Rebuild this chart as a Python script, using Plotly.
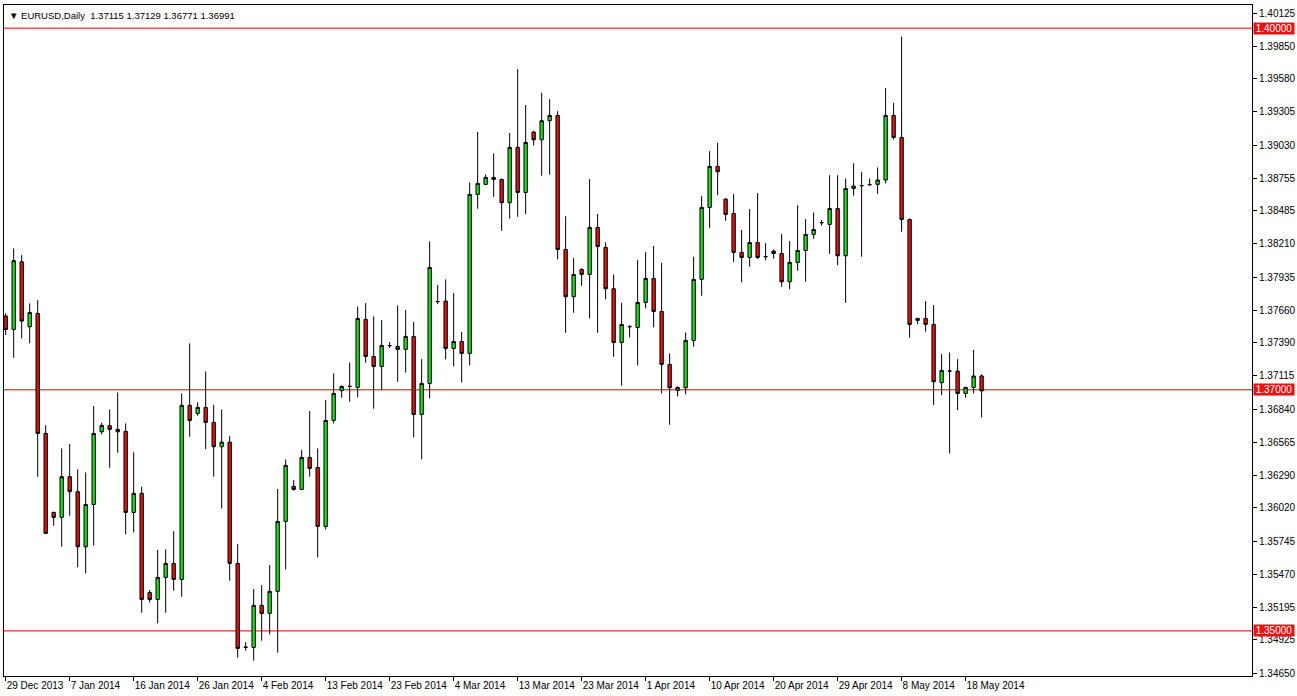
import datetime as dt
import plotly.graph_objects as go

# ---------------- data ----------------
dates = [
    "2013-12-29", "2013-12-30", "2013-12-31", "2014-01-01", "2014-01-02", "2014-01-03",
    "2014-01-05", "2014-01-06", "2014-01-07", "2014-01-08", "2014-01-09", "2014-01-10",
    "2014-01-12", "2014-01-13", "2014-01-14", "2014-01-15", "2014-01-16", "2014-01-17",
    "2014-01-19", "2014-01-20", "2014-01-21", "2014-01-22", "2014-01-23", "2014-01-24",
    "2014-01-26", "2014-01-27", "2014-01-28", "2014-01-29", "2014-01-30", "2014-01-31",
    "2014-02-02", "2014-02-03", "2014-02-04", "2014-02-05", "2014-02-06", "2014-02-07",
    "2014-02-09", "2014-02-10", "2014-02-11", "2014-02-12", "2014-02-13", "2014-02-14",
    "2014-02-16", "2014-02-17", "2014-02-18", "2014-02-19", "2014-02-20", "2014-02-21",
    "2014-02-23", "2014-02-24", "2014-02-25", "2014-02-26", "2014-02-27", "2014-02-28",
    "2014-03-02", "2014-03-03", "2014-03-04", "2014-03-05", "2014-03-06", "2014-03-07",
    "2014-03-09", "2014-03-10", "2014-03-11", "2014-03-12", "2014-03-13", "2014-03-14",
    "2014-03-16", "2014-03-17", "2014-03-18", "2014-03-19", "2014-03-20", "2014-03-21",
    "2014-03-23", "2014-03-24", "2014-03-25", "2014-03-26", "2014-03-27", "2014-03-28",
    "2014-03-30", "2014-03-31", "2014-04-01", "2014-04-02", "2014-04-03", "2014-04-04",
    "2014-04-06", "2014-04-07", "2014-04-08", "2014-04-09", "2014-04-10", "2014-04-11",
    "2014-04-13", "2014-04-14", "2014-04-15", "2014-04-16", "2014-04-17", "2014-04-18",
    "2014-04-20", "2014-04-21", "2014-04-22", "2014-04-23", "2014-04-24", "2014-04-25",
    "2014-04-27", "2014-04-28", "2014-04-29", "2014-04-30", "2014-05-01", "2014-05-02",
    "2014-05-04", "2014-05-05", "2014-05-06", "2014-05-07", "2014-05-08", "2014-05-09",
    "2014-05-11", "2014-05-12", "2014-05-13", "2014-05-14", "2014-05-15", "2014-05-16",
    "2014-05-18", "2014-05-19", "2014-05-20",
]

opens = [
    1.37612, 1.37501, 1.38062, 1.37523, 1.37634, 1.36638, 1.35983, 1.35942, 1.36279, 1.36155,
    1.35698, 1.36049, 1.36652, 1.36702, 1.36672, 1.36655, 1.35983, 1.36141, 1.35319, 1.35261,
    1.35444, 1.35560, 1.35427, 1.36871, 1.36804, 1.36854, 1.36730, 1.36528, 1.36566, 1.35560,
    1.34863, 1.34863, 1.35212, 1.35145, 1.35328, 1.35908, 1.36199, 1.36174, 1.36439, 1.36356,
    1.35867, 1.36746, 1.36995, 1.37028, 1.37020, 1.37584, 1.37277, 1.37194, 1.37366, 1.37360,
    1.37335, 1.37443, 1.36796, 1.37053, 1.37731, 1.37736, 1.37343, 1.37401, 1.37302, 1.38621,
    1.38704, 1.38762, 1.38745, 1.38552, 1.39011, 1.38637, 1.39138, 1.39074, 1.39232, 1.39276,
    1.38164, 1.37772, 1.37999, 1.37957, 1.38347, 1.38181, 1.37838, 1.37393, 1.37523, 1.37517,
    1.37725, 1.37924, 1.37650, 1.37211, 1.36995, 1.37017, 1.37410, 1.37916, 1.38513, 1.38853,
    1.38582, 1.38463, 1.38140, 1.38098, 1.38222, 1.38104, 1.38151, 1.38131, 1.37896, 1.38057,
    1.38156, 1.38289, 1.38386, 1.38372, 1.38504, 1.38112, 1.38670, 1.38693, 1.38701, 1.38704,
    1.38740, 1.39276, 1.39093, 1.38413, 1.37576, 1.37592, 1.37543, 1.37059, 1.37155, 1.37155,
    1.36970, 1.37020, 1.37115,
]

highs = [
    1.37634, 1.38173, 1.38118, 1.37717, 1.37744, 1.36707, 1.35989, 1.36514, 1.36550, 1.36340,
    1.36315, 1.36865, 1.36727, 1.36837, 1.36978, 1.36721, 1.36481, 1.36196, 1.35339, 1.35671,
    1.35676, 1.35828, 1.36970, 1.37385, 1.36896, 1.37153, 1.36876, 1.36837, 1.36616, 1.35720,
    1.34907, 1.35347, 1.35380, 1.35546, 1.36177, 1.36423, 1.36251, 1.36500, 1.36824, 1.36514,
    1.36915, 1.37136, 1.37036, 1.37227, 1.37692, 1.37719, 1.37609, 1.37578, 1.37396, 1.37700,
    1.37661, 1.37562, 1.37255, 1.38231, 1.37869, 1.37916, 1.37802, 1.37479, 1.38720, 1.39138,
    1.38787, 1.38961, 1.38753, 1.39130, 1.39660, 1.39362, 1.39149, 1.39464, 1.39411, 1.39312,
    1.38440, 1.38093, 1.38007, 1.38748, 1.38458, 1.38223, 1.37957, 1.37722, 1.37537, 1.38076,
    1.38142, 1.38192, 1.38054, 1.37302, 1.37028, 1.37476, 1.38104, 1.38607, 1.38980, 1.39049,
    1.38590, 1.38623, 1.38325, 1.38499, 1.38632, 1.38217, 1.38164, 1.38292, 1.38234, 1.38532,
    1.38416, 1.38471, 1.38408, 1.38781, 1.38781, 1.38753, 1.38880, 1.38806, 1.38753, 1.38845,
    1.39503, 1.39381, 1.39929, 1.38421, 1.37598, 1.37736, 1.37703, 1.37296, 1.37310, 1.37255,
    1.37026, 1.37330, 1.37129,
]

lows = [
    1.37454, 1.37266, 1.37426, 1.37385, 1.36279, 1.35803, 1.35872, 1.35698, 1.35955, 1.35527,
    1.35477, 1.35707, 1.36630, 1.36354, 1.36478, 1.35801, 1.35817, 1.35151, 1.35236, 1.35062,
    1.35151, 1.35333, 1.35283, 1.36611, 1.36785, 1.36508, 1.36279, 1.36016, 1.35416, 1.34778,
    1.34836, 1.34753, 1.34919, 1.34971, 1.34819, 1.35510, 1.36163, 1.36168, 1.36279, 1.35610,
    1.35842, 1.36721, 1.36934, 1.36901, 1.36937, 1.37225, 1.36843, 1.36998, 1.37346, 1.37067,
    1.37142, 1.36605, 1.36423, 1.36929, 1.37711, 1.37252, 1.37194, 1.37061, 1.37202, 1.38502,
    1.38698, 1.38601, 1.38319, 1.38419, 1.38435, 1.38458, 1.39027, 1.38776, 1.38784, 1.38082,
    1.37473, 1.37639, 1.37863, 1.37592, 1.37473, 1.37750, 1.37274, 1.37034, 1.37435, 1.37202,
    1.37675, 1.37517, 1.36970, 1.36710, 1.36945, 1.36962, 1.37357, 1.37780, 1.38344, 1.38615,
    1.38402, 1.38060, 1.37891, 1.38021, 1.38084, 1.38073, 1.38087, 1.37855, 1.37835, 1.37987,
    1.37896, 1.38253, 1.38361, 1.38128, 1.38034, 1.37722, 1.38610, 1.38104, 1.38693, 1.38626,
    1.38712, 1.39077, 1.38311, 1.37432, 1.37543, 1.37482, 1.36873, 1.36956, 1.36472, 1.36832,
    1.36934, 1.36970, 1.36771,
]

closes = [
    1.37501, 1.38071, 1.37570, 1.37642, 1.36638, 1.35809, 1.35942, 1.36279, 1.36155, 1.35698,
    1.36049, 1.36638, 1.36705, 1.36672, 1.36652, 1.35983, 1.36141, 1.35261, 1.35261, 1.35444,
    1.35560, 1.35427, 1.36871, 1.36746, 1.36854, 1.36730, 1.36528, 1.36566, 1.35560, 1.34855,
    1.34866, 1.35212, 1.35145, 1.35328, 1.35908, 1.36373, 1.36174, 1.36439, 1.36348, 1.35867,
    1.36746, 1.36970, 1.37028, 1.37029, 1.37592, 1.37277, 1.37194, 1.37368, 1.37367, 1.37335,
    1.37443, 1.36796, 1.37053, 1.38015, 1.37732, 1.37343, 1.37401, 1.37302, 1.38621, 1.38712,
    1.38762, 1.38745, 1.38552, 1.39011, 1.38637, 1.39052, 1.39074, 1.39232, 1.39276, 1.38164,
    1.37772, 1.37957, 1.37957, 1.38347, 1.38189, 1.37838, 1.37393, 1.37542, 1.37524, 1.37725,
    1.37924, 1.37650, 1.37211, 1.37017, 1.37020, 1.37410, 1.37916, 1.38513, 1.38853, 1.38809,
    1.38455, 1.38140, 1.38098, 1.38222, 1.38098, 1.38105, 1.38131, 1.37896, 1.38057, 1.38156,
    1.38289, 1.38330, 1.38387, 1.38504, 1.38112, 1.38670, 1.38690, 1.38694, 1.38702, 1.38740,
    1.39276, 1.39093, 1.38413, 1.37542, 1.37592, 1.37543, 1.37067, 1.37161, 1.37156, 1.36970,
    1.37020, 1.37114, 1.36991,
]

level_lines = [1.40000, 1.37000, 1.35000]
price_ticks = [1.40125, 1.39850, 1.39580, 1.39305, 1.39030, 1.38755, 1.38485, 1.38210,
               1.37935, 1.37660, 1.37390, 1.37115, 1.36840, 1.36565, 1.36290, 1.36020,
               1.35745, 1.35470, 1.35195, 1.34925, 1.34650]
header_text = "\u25BC EURUSD,Daily  1.37115 1.37129 1.36771 1.36991"
date_tick_step = 8

# ---------------- figure ----------------
FONT = "Liberation Sans"
GREEN = "#20DC20"
RED = "#DC1414"
LEVEL_RED = "#DC0000"
LABEL_RED = "#EE1111"

tick_dates = dates[::date_tick_step]
tick_labels = []
for d in tick_dates:
    t = dt.datetime.strptime(d, "%Y-%m-%d")
    tick_labels.append(f"{t.day} {t.strftime('%b %Y')}")

fig = go.Figure()
fig.add_trace(go.Candlestick(
    x=dates, open=opens, high=highs, low=lows, close=closes,
    increasing=dict(line=dict(color="black", width=1), fillcolor=GREEN),
    decreasing=dict(line=dict(color="black", width=1), fillcolor=RED),
    whiskerwidth=0,
    showlegend=False,
))

shapes = []
annotations = []
for lv in level_lines:
    shapes.append(dict(type="line", xref="paper", x0=0, x1=1, yref="y", y0=lv, y1=lv,
                       line=dict(color=LEVEL_RED, width=1), layer="below"))
    annotations.append(dict(xref="paper", x=1, xanchor="left", yref="y", y=lv, yanchor="middle",
                            text=f"{lv:.5f}", showarrow=False, bgcolor=LABEL_RED,
                            font=dict(family=FONT, size=10, color="white"),
                            width=40, height=11, borderpad=0, align="center", xshift=1))

annotations.append(dict(xref="paper", yref="paper", x=0, y=1, xanchor="left", yanchor="top",
                        text=header_text, showarrow=False, xshift=3, yshift=-3,
                        font=dict(family=FONT, size=9.5, color="black")))

fig.update_layout(
    width=1297, height=696,
    margin=dict(l=4, r=45, t=5, b=20, autoexpand=False),
    paper_bgcolor="white", plot_bgcolor="white",
    font=dict(family=FONT, size=10, color="black"),
    boxgap=0.4,
    shapes=shapes, annotations=annotations,
    xaxis=dict(
        type="category", range=[-0.21, 155.8],
        tickmode="array", tickvals=tick_dates, ticktext=tick_labels,
        ticks="outside", ticklen=4, tickcolor="black", tickwidth=1,
        ticklabelposition="outside right", tickangle=0, automargin=False,
        showgrid=False, zeroline=False, showline=True, linecolor="black", linewidth=1,
        mirror=True, rangeslider=dict(visible=False),
        tickfont=dict(family=FONT, size=10, color="black"),
    ),
    yaxis=dict(
        side="right", range=[1.34626, 1.40192], automargin=False,
        tickmode="array", tickvals=price_ticks, ticktext=[f"{v:.5f}" for v in price_ticks],
        ticks="outside", ticklen=4, tickcolor="black", tickwidth=1,
        showgrid=False, zeroline=False, showline=True, linecolor="black", linewidth=1,
        mirror=True,
        tickfont=dict(family=FONT, size=10, color="black"),
    ),
)

fig.write_html(
    "out.html",
    config={"displayModeBar": False},
    post_script="document.body.style.margin='0';document.body.style.overflow='hidden';",
)
